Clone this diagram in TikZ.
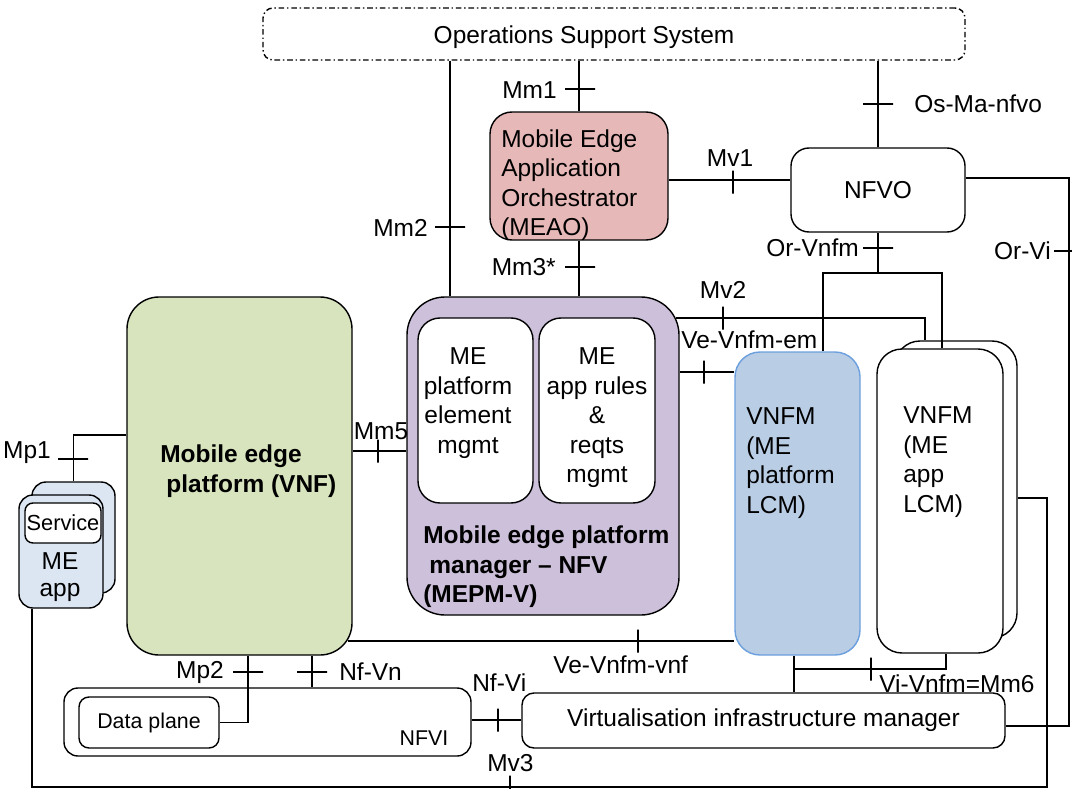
\documentclass[tikz,border=0pt]{standalone}
\usepackage{fontspec}
\setmainfont{Liberation Sans}
\usepackage{tikz}
\usetikzlibrary{calc}
\definecolor{meaopink}{HTML}{E6B8B7}
\definecolor{vnfgreen}{HTML}{D7E4BD}
\definecolor{mepmlilac}{HTML}{CCC0DA}
\definecolor{vnfmblue}{HTML}{B9CDE5}
\definecolor{vnfmedge}{HTML}{6C9FDE}
\definecolor{appblue}{HTML}{DCE6F2}
\newcommand{\pxu}{0.025cm}

\begin{document}
\begin{tikzpicture}[x=\pxu, y=-\pxu,
  every node/.style={font=\fontsize{17.4}{21}\selectfont, inner sep=0pt},
  box/.style={draw, line width=1pt, fill=white},
  link/.style={line width=1.3pt},
  htk/.style={draw, line width=1pt, minimum width=30*\pxu, minimum height=0pt},
  vtk/.style={draw, line width=1pt, minimum height=23*\pxu, minimum width=0pt},
  bold/.style={font=\fontsize{17.4}{21}\selectfont\bfseries},
  small/.style={font=\fontsize{15.2}{18}\selectfont}]
  \useasboundingbox (0,0) rectangle (1072,789);

  % Management boxes
  \node[box, dash pattern=on 4pt off 2pt on 1pt off 2pt, rounded corners=10*\pxu, minimum width=702*\pxu, minimum height=52*\pxu] (oss) at (614,34) {};
  \node (osstxt) at (584,37) {Operations Support System};

  \node[box, fill=meaopink, rounded corners=22*\pxu, minimum width=178*\pxu, minimum height=128*\pxu] (meao) at (579,176) {};
  \node[align=left, anchor=west] (meaotxt) at (501,185) {Mobile Edge\\Application\\Orchestrator\\(MEAO)};

  \node[box, rounded corners=18*\pxu, minimum width=174*\pxu, minimum height=84*\pxu] (nfvo) at (878,190) {NFVO};

  \node[box, fill=mepmlilac, rounded corners=38*\pxu, minimum width=272*\pxu, minimum height=318*\pxu] (mepm) at (543,456) {};
  \node[box, rounded corners=22*\pxu, minimum width=115*\pxu, minimum height=185*\pxu] (pfelem) at (475.5,410.5) {};
  \node[box, rounded corners=22*\pxu, minimum width=116*\pxu, minimum height=185*\pxu] (apprules) at (597,410.5) {};
  \node[align=center] (pfelemtxt) at (468,403) {ME\\platform\\element\\mgmt};
  \node[align=center] (apprulestxt) at (597,418) {ME\\app rules\\\&\\reqts\\mgmt};
  \node[bold, align=left, anchor=west] (mepmtxt) at (423,567) {Mobile edge platform\\\hspace{0.25em}manager -- NFV\\(MEPM-V)};

  % Platform and apps
  \node[box, fill=vnfgreen, rounded corners=32*\pxu, minimum width=225*\pxu, minimum height=358*\pxu] (vnf) at (239.5,476) {};
  \node[bold, align=left, anchor=west] (vnftxt) at (160,471) {Mobile edge\\\hspace{0.25em}platform (VNF)};

  \node[box, fill=appblue, rounded corners=14*\pxu, minimum width=83*\pxu, minimum height=111*\pxu] (meappb) at (73.5,537.5) {};
  \node[box, fill=appblue, rounded corners=14*\pxu, minimum width=84*\pxu, minimum height=113*\pxu] (meapp) at (61,551.5) {};
  \node[box, rounded corners=8*\pxu, minimum width=76*\pxu, minimum height=40*\pxu, font=\fontsize{15.5}{18}\selectfont] (service) at (63,523) {Service};
  \node[align=center, font=\fontsize{17.4}{19}\selectfont] (meapptxt) at (60,577) {ME\\app};

  % VNF managers
  \node[box, draw=vnfmedge, fill=vnfmblue, rounded corners=25*\pxu, minimum width=125*\pxu, minimum height=303*\pxu] (vnfmp) at (797.5,503.5) {};
  \node[align=left, anchor=west] (vnfmptxt) at (746,463) {VNFM\\(ME\\platform\\LCM)};

  \node[box, rounded corners=25*\pxu, minimum width=122*\pxu, minimum height=297*\pxu] (vnfmab) at (956,489.5) {};
  \node[box, rounded corners=25*\pxu, minimum width=126*\pxu, minimum height=304*\pxu] (vnfma) at (940,501) {};
  \node[align=left, anchor=west] (vnfmatxt) at (903,462) {VNFM\\(ME\\app\\LCM)};

  % Infrastructure
  \node[box, rounded corners=12*\pxu, minimum width=483*\pxu, minimum height=55*\pxu] (vim) at (763.5,720.5) {Virtualisation infrastructure manager};
  \node[box, rounded corners=14*\pxu, minimum width=407*\pxu, minimum height=68*\pxu] (nfvi) at (267.5,722) {};
  \node[small] (nfvitxt) at (424,738) {NFVI};
  \node[box, small, rounded corners=10*\pxu, minimum width=140*\pxu, minimum height=51*\pxu] (dplane) at (149,722.5) {Data plane};

  % Reference points
  \draw[link] (oss.south -| meao.north) -- (meao.north);
  \draw[link] (oss.south -| 450,0) -- (mepm.north -| 450,0);
  \draw[link] (meao.south) -- (mepm.north -| meao.south);
  \draw[link] (oss.south -| nfvo.north) -- (nfvo.north);
  \draw[link] (meao.east |- 0,180) -- (nfvo.west |- 0,180);
  \draw[link] (nfvo.east |- 0,178) -| (1069,450) |- (vim.east |- 0,726);
  \draw[link] (nfvo.south) -- (nfvo.south |- 0,273);
  \draw[link] (vnfmp.north -| 823,0) |- (942,273) -- (vnfma.north -| 942,0);
  \draw[link] ($(mepm.east |- 0,318)+(-4,0)$) -| (vnfmab.north -| 925,0);
  \draw[link] (mepm.east |- 0,372) -- (vnfmp.west |- 0,372);
  \draw[link] (vnf.east |- 0,451) -- (mepm.west |- 0,451);
  \draw[link] (vnf.west |- 0,435) -| (meappb.north);
  \draw[link] (meapp.south -| 32,0) |- (1047,787) |- (vnfmab.east |- 0,498);
  \draw[link] ($(vnf.east |- 0,641)+(-5,0)$) -- (vnfmp.west |- 0,641);
  \draw[link] (vnfmp.south -| 794,0) -- (vim.north -| 794,0);
  \coordinate (mm6j) at (794,669);
  \draw[link] (mm6j) -| (vnfma.south -| 946,0);
  \draw[link] (nfvi.east |- 0,720) -- (vim.west |- 0,720);
  \draw[link] (vnf.south -| 248,0) |- (dplane.east);
  \draw[link] (vnf.south -| 312,0) -- (nfvi.north -| 312,0);

  \node[htk] (t-mm1) at (580,89) {};
  \node[htk] (t-mm2) at (450,227) {};
  \node[htk] (t-mm3) at (580,267) {};
  \node[htk] (t-osma) at (878,104) {};
  \node[vtk] (t-mv1) at (733,182) {};
  \node[htk] (t-orvnfm) at (878,248) {};
  \node[htk] (t-orvi) at (1069,251) {};
  \node[vtk] (t-mv2) at (723,318) {};
  \node[vtk] (t-vnfmem) at (704,372) {};
  \node[vtk] (t-mm5) at (378,451) {};
  \node[htk] (t-mp1) at (73,459) {};
  \node[vtk] (t-vnfmvnf) at (638,641) {};
  \node[vtk] (t-mm6) at (871,669) {};
  \node[vtk] (t-nfvi) at (498,720) {};
  \node[htk] (t-mp2) at (248,672) {};
  \node[htk] (t-nfvn) at (312,672) {};
  \node[vtk] (t-mv3) at (510,787) {};

  \node[anchor=east] (l-mm1) at (557,90) {Mm1};
  \node[anchor=east] (l-mm2) at (428,228) {Mm2};
  \node[anchor=east] (l-mm3) at (556,267) {Mm3*};
  \node[anchor=west] (l-osma) at (914,104) {Os-Ma-nfvo};
  \node (l-mv1) at (730,158) {Mv1};
  \node[anchor=east] (l-orvnfm) at (859,248) {Or-Vnfm};
  \node[anchor=east] (l-orvi) at (1051,251) {Or-Vi};
  \node (l-mv2) at (723,290) {Mv2};
  \node[anchor=west] (l-vnfmem) at (681,340) {Ve-Vnfm-em};
  \node (l-mm5) at (381,431) {Mm5};
  \node[anchor=east] (l-mp1) at (51,453) {Mp1};
  \node[anchor=west] (l-vnfmvnf) at (553,665) {Ve-Vnfm-vnf};
  \node[anchor=west] (l-mm6) at (879,684) {Vi-Vnfm=Mm6};
  \node[anchor=east] (l-mp2) at (224,672) {Mp2};
  \node[anchor=west] (l-nfvn) at (339,672) {Nf-Vn};
  \node[anchor=west] (l-nfvi) at (472,683) {Nf-Vi};
  \node[anchor=west] (l-mv3) at (487,763) {Mv3};
\end{tikzpicture}
\end{document}
